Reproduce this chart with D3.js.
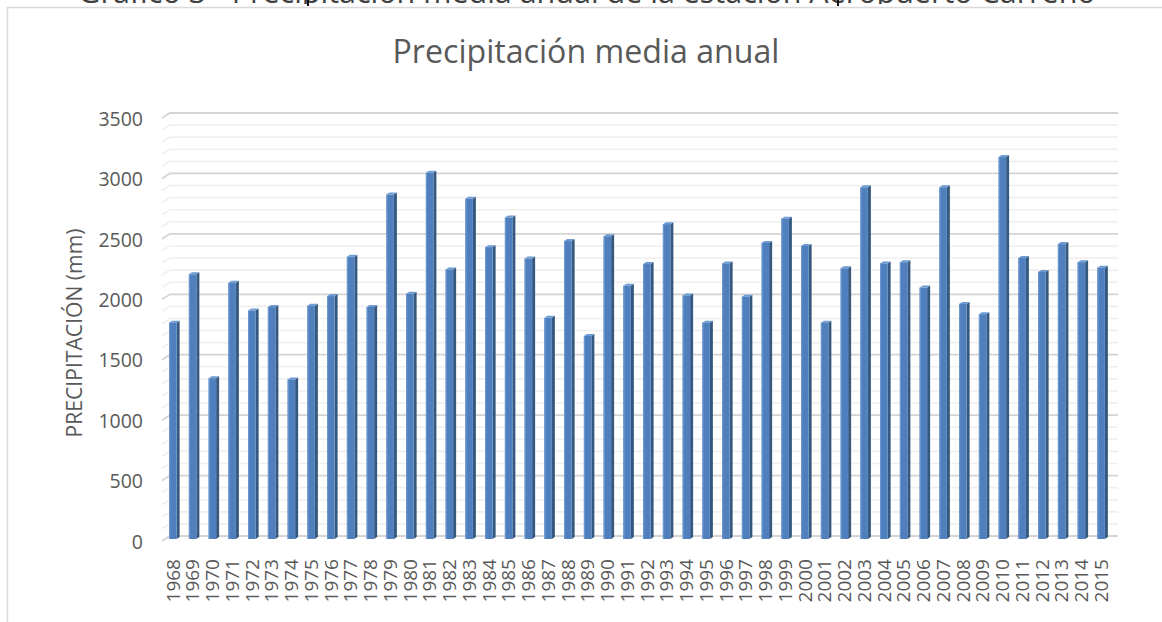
<!DOCTYPE html>
<html><head><meta charset="utf-8">
<script src="https://cdn.jsdelivr.net/npm/d3@7"></script>
<style>
html,body{margin:0;padding:0;background:#fff;}
svg{display:block;}
text{font-family:"Open Sans","Noto Sans",sans-serif;fill:#595959;}
</style></head>
<body>
<svg id="c" width="1162" height="622"></svg>
<script>
const years = [1968,1969,1970,1971,1972,1973,1974,1975,1976,1977,1978,1979,1980,1981,1982,1983,1984,1985,1986,1987,1988,1989,1990,1991,1992,1993,1994,1995,1996,1997,1998,1999,2000,2001,2002,2003,2004,2005,2006,2007,2008,2009,2010,2011,2012,2013,2014,2015];
const precip = [1790,2190,1330,2120,1890,1920,1320,1930,2010,2335,1920,2850,2030,3030,2230,2815,2415,2660,2320,1830,2465,1680,2505,2095,2275,2605,2015,1790,2280,2005,2450,2650,2425,1790,2240,2910,2280,2290,2080,2910,1945,1860,3160,2325,2210,2440,2290,2245];
const yTicks = [0,500,1000,1500,2000,2500,3000,3500];
const minorTicks = d3.range(0,3501,100);
const chartTitle = "Precipitación media anual";
const yTitle = "PRECIPITACIÓN (mm)";
const topCaption = "Gráfico 3 - Precipitación media anual de la estación Aeropuerto Carreño";

const svg = d3.select("#c");

function fitText(sel, base, target){
  sel.style("font-size", base+"px");
  const l = sel.node().getComputedTextLength();
  sel.style("font-size", (base*target/l)+"px");
}

// cropped caption above the chart
const cap = svg.append("text").attr("x",587).attr("y",3).attr("text-anchor","middle")
  .style("fill","#404040").text(topCaption);
fitText(cap, 26, 1018);
svg.append("rect").attr("x",0).attr("y",4).attr("width",1162).attr("height",7).attr("fill","#fff");
svg.append("line").attr("x1",308).attr("x2",308).attr("y1",0).attr("y2",6).attr("stroke","#111").attr("stroke-width",2);
svg.append("line").attr("x1",838).attr("x2",838).attr("y1",0).attr("y2",6).attr("stroke","#111").attr("stroke-width",2);

// chart frame
svg.append("rect").attr("x",7.5).attr("y",7.5).attr("width",1170).attr("height",630)
  .attr("fill","#fff").attr("stroke","#d9d9d9").attr("stroke-width",1.5);

const x = d3.scaleBand().domain(years).range([162,1110]).padding(0);
const y = d3.scaleLinear().domain([0,3500]).range([539,116]);
const dx = 8, dy = 5;

// gridlines (3D back wall + floor diagonal)
const grid = svg.append("g");
minorTicks.forEach(v=>{
  const major = v % 500 === 0;
  const yf = y(v)+2, yb = yf-dy;
  grid.append("path")
    .attr("d",`M${162},${yf}L${162+dx},${yb}L${1118},${yb}`)
    .attr("fill","none")
    .attr("stroke", major ? "#d4d4d4" : "#efefef")
    .attr("stroke-width", major ? 1.8 : 1.6);
});

// bars
const fw = 7.5, sw = 3, th = 2;
const bars = svg.append("g");
years.forEach((yr,i)=>{
  const cx = x(yr) + x.bandwidth()/2 + 1;
  const x0 = cx - fw/2, x1 = cx + fw/2;
  const yt = y(precip[i]), yb = y(0);
  bars.append("path").attr("d",`M${x1},${yt}L${x1+sw},${yt-th}L${x1+sw},${yb-th}L${x1},${yb}Z`).attr("fill","#34587f");
  bars.append("path").attr("d",`M${x0},${yt}L${x0+sw},${yt-th}L${x1+sw},${yt-th}L${x1},${yt}Z`).attr("fill","#6d9bd3");
  bars.append("rect").attr("x",x0).attr("y",yt).attr("width",fw).attr("height",yb-yt).attr("fill","#4f7fbd");
  bars.append("rect").attr("x",x0).attr("y",yt).attr("width",1.2).attr("height",yb-yt).attr("fill","#6a97d0");
});

// y axis labels
const ya = svg.append("g").attr("transform","translate(143,3)")
  .call(d3.axisLeft(y).tickValues(yTicks).tickSize(0).tickPadding(0).tickFormat(d3.format("d")));
ya.select(".domain").remove();
ya.selectAll("text").style("font-size","19.5px").style("fill","#595959").attr("font-family",null);

// x axis labels
const xa = svg.append("g").attr("transform","translate(1,559)")
  .call(d3.axisBottom(x).tickSize(0).tickPadding(0));
xa.select(".domain").remove();
xa.selectAll("text").style("font-size","19px").style("fill","#595959")
  .attr("transform","rotate(-90)").attr("text-anchor","end")
  .attr("x",0).attr("y",0).attr("dy","0.35em").attr("dx",0).attr("font-family",null);

// titles
const t = svg.append("text").attr("x",586).attr("y",63).attr("text-anchor","middle").text(chartTitle);
fitText(t, 28, 387);
const yt = svg.append("text").attr("transform","translate(82,333) rotate(-90)").attr("text-anchor","middle").text(yTitle);
fitText(yt, 17, 209);
</script>
</body></html>
